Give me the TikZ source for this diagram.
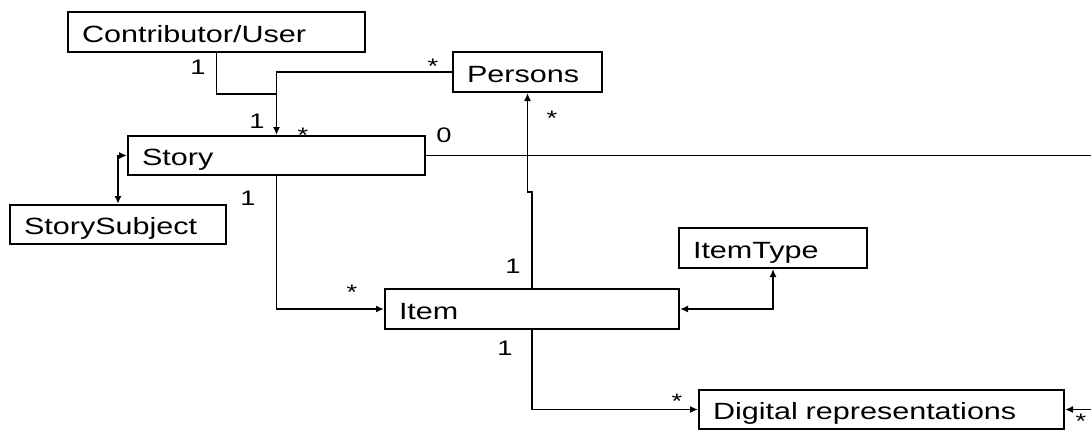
\documentclass[tikz,border=0pt]{standalone}
\usepackage{fontspec}
\setmainfont{Liberation Sans}[FakeStretch=1.3]
\usetikzlibrary{arrows.meta}
\begin{document}
\begin{tikzpicture}[x=1pt,y=-1pt,
  box/.style={draw, line width=2pt, minimum height=40pt, inner xsep=14pt, inner ysep=0pt,
    align=left, text height=21pt, text depth=1pt, font=\fontsize{23.5}{23.5}\selectfont},
  conn/.style={line width=1.8pt},
  arr/.style={-{Latex[length=8pt,width=7pt]}},
  biarr/.style={{Latex[length=8pt,width=7pt]}-{Latex[length=8pt,width=7pt]}},
  lab/.style={font=\fontsize{21}{21}\selectfont, anchor=base, inner sep=0pt}]
\useasboundingbox (0,0) rectangle (1091,431);

% boxes
\node[box, text width=269pt] (cu) at (216.5,32) {Contributor/User};
\node[box, text width=121pt] (persons) at (527.5,72) {Persons};
\node[box, text width=269pt, minimum height=39pt] (story) at (276.5,155.5) {Story};
\node[box, text width=188pt, minimum height=39pt] (subj) at (118,224.5) {StorySubject};
\node[box, text width=160pt] (itemtype) at (773,248) {ItemType};
\node[box, text width=266pt] (item) at (532,309) {Item};
\node[box, text width=337pt, minimum height=39pt] (digital) at (881.5,409.5) {Digital representations};

% helper coordinates
\coordinate (j) at (276.5,94);
\coordinate (k) at (532,192);
\coordinate (east1) at (1091,155.5);
\coordinate (east2) at (1091,409.5);

% connectors
\draw[conn,arr] (cu.south) |- (j) -- (story.north);
\draw[conn] (persons.west) -| (j);
\draw[conn,biarr] (story.west) -| (subj.north);
\draw[conn] (story.east) -- (east1);
\draw[conn,arr] (story.south) |- (item.west);
\draw[conn,arr] (item.north) -- (k) -| (persons.south);
\draw[conn,biarr] (item.east) -| (itemtype.south);
\draw[conn,arr] (item.south) |- (digital.west);
\draw[conn,arr] (east2) -- (digital.east);

% multiplicity labels
\node[lab] (l1) at (198,74) {1};
\node[lab] (l2) at (433,73) {*};
\node[lab] (l3) at (257,128) {1};
\node[lab] (l4) at (303,142) {*};
\node[lab] (l5) at (444,142) {0};
\node[lab] (l6) at (248,205) {1};
\node[lab] (l7) at (352,299) {*};
\node[lab] (l8) at (513,273) {1};
\node[lab] (l9) at (552,125) {*};
\node[lab] (l10) at (505,355) {1};
\node[lab] (l11) at (677,408) {*};
\node[lab] (l12) at (1081,428) {*};
\end{tikzpicture}
\end{document}
